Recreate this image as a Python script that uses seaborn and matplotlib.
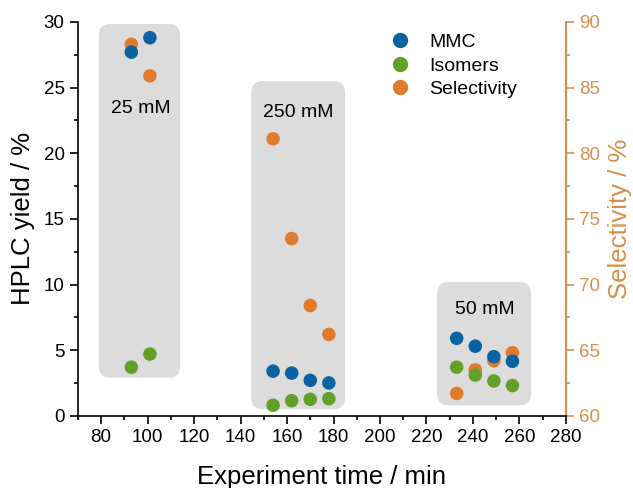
import numpy as np
import pandas as pd
import matplotlib.pyplot as plt
import seaborn as sns
from matplotlib.patches import FancyBboxPatch
from matplotlib.lines import Line2D
from matplotlib.ticker import MultipleLocator

sns.set_style("ticks")
plt.rcParams["font.family"] = ["Liberation Sans", "DejaVu Sans"]
plt.rcParams["text.color"] = "black"
plt.rcParams["axes.labelcolor"] = "black"
plt.rcParams["xtick.color"] = "black"
plt.rcParams["ytick.color"] = "black"
plt.rcParams["axes.edgecolor"] = "black"

time = [93, 101, 154, 162, 170, 178, 233, 241, 249, 257]
mmc = [27.7, 28.8, 3.4, 3.25, 2.7, 2.5, 5.9, 5.3, 4.5, 4.15]
isomers = [3.7, 4.7, 0.8, 1.15, 1.25, 1.3, 3.7, 3.1, 2.65, 2.3]
selectivity = [88.3, 85.9, 81.1, 73.5, 68.4, 66.2, 61.7, 63.5, 64.2, 64.8]

group_labels = ["25 mM", "250 mM", "50 mM"]
group_boxes = [(79, 2.9, 114, 29.85), (144.6, 0.5, 185, 25.5), (224.6, 0.8, 265, 10.2)]
label_pos = [(97, 23.4), (165, 23.1), (245, 8.1)]

blue = "#0a62a0"
green = "#62a027"
orange = "#e07a2c"
axis_orange = "#d9904a"

df = pd.DataFrame({"time": time, "MMC": mmc, "Isomers": isomers, "Selectivity": selectivity})
long = df.melt(id_vars="time", value_vars=["MMC", "Isomers"], var_name="series", value_name="yield")

fig, ax = plt.subplots(figsize=(6.33, 4.88), dpi=100)
fig.subplots_adjust(left=0.123, right=0.894, bottom=0.148, top=0.955)
ax2 = ax.twinx()

ax.set_xlim(70, 280)
ax.set_ylim(0, 30)
ax2.set_ylim(60, 90)

# shaded group boxes live on the selectivity axis (same 30-unit span, offset 60)
for (x0, y0, x1, y1) in group_boxes:
    ax2.add_patch(FancyBboxPatch((x0, y0 + 60), x1 - x0, y1 - y0,
                                 boxstyle="round,pad=0,rounding_size=5",
                                 mutation_aspect=0.18,
                                 facecolor="#dcdcdc", edgecolor="none", zorder=0))
for lab, (x, y) in zip(group_labels, label_pos):
    ax2.text(x, y + 60, lab, ha="center", va="center", fontsize=14, zorder=1)

sns.scatterplot(data=df, x="time", y="Selectivity", color=orange, s=95, edgecolor="none",
                ax=ax2, zorder=3, legend=False)
sns.scatterplot(data=long, x="time", y="yield", hue="series", palette=[blue, green],
                s=95, edgecolor="none", ax=ax, zorder=3, legend=False)

ax.set_zorder(ax2.get_zorder() + 1)
ax.patch.set_visible(False)

ax.xaxis.set_major_locator(MultipleLocator(20))
ax.xaxis.set_minor_locator(MultipleLocator(10))
ax.yaxis.set_major_locator(MultipleLocator(5))
ax.yaxis.set_minor_locator(MultipleLocator(2.5))
ax2.yaxis.set_major_locator(MultipleLocator(5))
ax2.yaxis.set_minor_locator(MultipleLocator(2.5))

ax.set_xlabel("Experiment time / min", fontsize=18.5, labelpad=14)
ax.set_ylabel("HPLC yield / %", fontsize=18.5, labelpad=6)
ax2.set_ylabel("Selectivity / %", fontsize=18.5, color=axis_orange, labelpad=6)

ax.tick_params(axis="both", which="major", labelsize=13.5, length=6, width=1.2, direction="out")
ax.tick_params(axis="both", which="minor", length=3, width=1.2, direction="out")
ax2.tick_params(axis="y", which="major", labelsize=13.5, length=6, width=1.2, colors=axis_orange)
ax2.tick_params(axis="y", which="minor", length=3, width=1.2, colors=axis_orange)

ax.spines["top"].set_visible(False)
ax2.spines["top"].set_visible(False)
ax.spines["right"].set_visible(False)
ax2.spines["left"].set_visible(False)
ax2.spines["bottom"].set_visible(False)
ax.spines["left"].set_linewidth(1.2)
ax.spines["bottom"].set_linewidth(1.2)
ax2.spines["right"].set_linewidth(1.5)
ax2.spines["right"].set_color(axis_orange)

handles = [Line2D([], [], marker="o", linestyle="none", markersize=10, color=c)
           for c in [blue, green, orange]]
ax.legend(handles, ["MMC", "Isomers", "Selectivity"], loc="upper left",
          bbox_to_anchor=(0.585, 1.015), frameon=False, fontsize=14,
          handletextpad=0.5, labelspacing=0.3)

fig.savefig("out.png", dpi=100)
